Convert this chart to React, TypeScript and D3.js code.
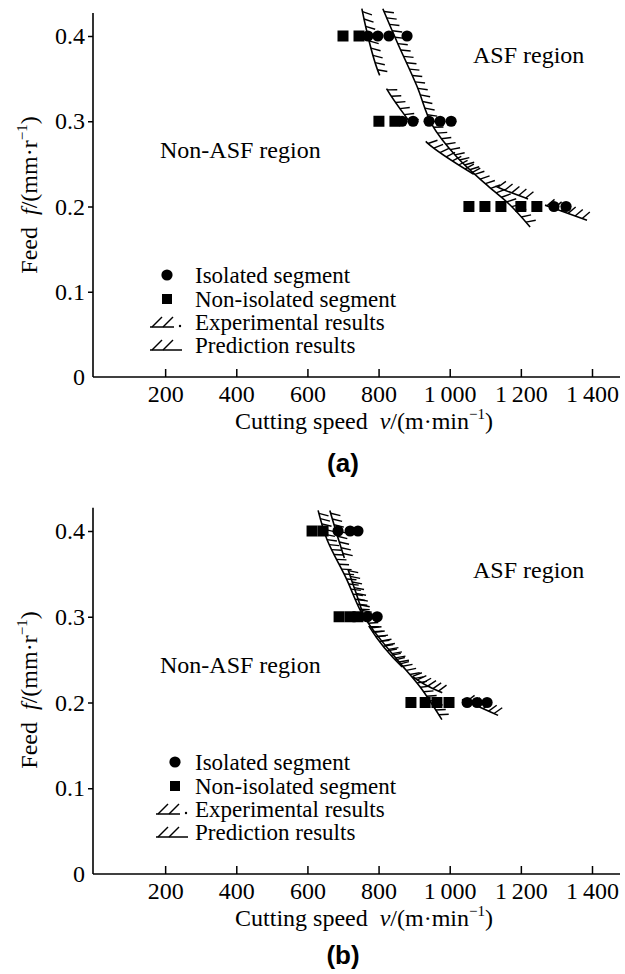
import React, { useEffect, useRef } from 'react';
import * as d3 from 'd3';

// shared axis values
const xTicks = [200, 400, 600, 800, 1000, 1200, 1400];
const yTicks = [0, 0.1, 0.2, 0.3, 0.4];
const feeds = [0.4, 0.3, 0.2];

// panel (a): speeds per feed row
const aIsolated = [[770, 798, 829, 880], [866, 897, 942, 973, 1004], [1293, 1327]];
const aNonIsolated = [[700, 745], [801, 846], [1054, 1099, 1144, 1200, 1245]];
const aExpV = [753, 804, 888, 936, 1071, 1133, 1226, 1386];
const aExpF = [0.432, 0.353, 0.299, 0.275, 0.237, 0.223, 0.208, 0.184];
const aPredV = [812, 852, 908, 950, 1020, 1105, 1169, 1226];
const aPredF = [0.432, 0.393, 0.341, 0.296, 0.258, 0.225, 0.202, 0.176];

// panel (b)
const bIsolated = [[686, 720, 742], [768, 796], [1049, 1077, 1105]];
const bNonIsolated = [[613, 644], [689, 720, 742], [891, 931, 964, 998]];
const bExpV = [663, 692, 734, 776, 897, 981, 1037, 1136];
const bExpF = [0.424, 0.384, 0.331, 0.287, 0.230, 0.211, 0.203, 0.185];
const bPredV = [630, 655, 711, 748, 784, 852, 917, 978];
const bPredF = [0.424, 0.390, 0.343, 0.308, 0.285, 0.250, 0.218, 0.180];

const legendLabels = ['Isolated segment', 'Non-isolated segment', 'Experimental results', 'Prediction results'];

const SERIF = '"Liberation Serif", "Times New Roman", serif';

const panels = [
  {
    base: 377, h40: 341, tag: '(a)', tagY: 472,
    iso: aIsolated, non: aNonIsolated,
    exp: [aExpV, aExpF], pred: [aPredV, aPredF],
    expDash: [69, 15, 40, 26, 58, 25, 35, 18, 60, 10],
    hatchGap: 7,
    legendX: 167, symX: 150, legendY: [275, 299, 322, 345],
    asf: [473, 63], nonAsf: [160, 158], yTitle: 195,
  },
  {
    base: 874, h40: 343, tag: '(b)', tagY: 964,
    iso: bIsolated, non: bNonIsolated,
    exp: [bExpV, bExpF], pred: [bPredV, bPredF],
    expDash: [50, 12, 48, 12, 53, 14, 34, 21, 40, 10],
    hatchGap: 5.5,
    legendX: 175, symX: 156, legendY: [762, 786, 809, 832],
    asf: [473, 578], nonAsf: [160, 673], yTitle: 690,
  },
];

function fmt(v: number) {
  if (v < 1000) return String(v);
  return Math.floor(v / 1000) + '\u2009' + String(v % 1000).padStart(3, '0');
}

function inDash(s: number, dash: number[]) {
  const period = d3.sum(dash);
  let pos = s % period;
  for (let i = 0; i < dash.length; i++) {
    if (pos < dash[i]) return i % 2 === 0;
    pos -= dash[i];
  }
  return false;
}

// short strokes on the ASF side of a curve
function hatch(g: any, node: SVGPathElement, gap: number, len: number, dash?: number[]) {
  const total = node.getTotalLength();
  const a = -Math.PI / 3;
  for (let s = 3; s < total - 1; s += gap) {
    if (dash && !inDash(s, dash)) continue;
    const p = node.getPointAtLength(s);
    const p1 = node.getPointAtLength(Math.min(total, s + 1));
    const p0 = node.getPointAtLength(Math.max(0, s - 1));
    let tx = p1.x - p0.x, ty = p1.y - p0.y;
    const n = Math.hypot(tx, ty) || 1;
    tx /= n; ty /= n;
    const hx = tx * Math.cos(a) - ty * Math.sin(a);
    const hy = tx * Math.sin(a) + ty * Math.cos(a);
    g.append('line')
      .attr('x1', p.x).attr('y1', p.y)
      .attr('x2', p.x + hx * len).attr('y2', p.y + hy * len)
      .attr('stroke', '#000').attr('stroke-width', 1.4);
  }
}

function drawPanel(svg: any, p: any) {
  const x = d3.scaleLinear().domain([0, 1400]).range([94, 592]);
  const y = d3.scaleLinear().domain([0, 0.4]).range([p.base, p.base - p.h40]);
  const g = svg.append('g').attr('font-family', SERIF).attr('fill', '#000');

  // axes
  g.append('line').attr('x1', 93).attr('x2', 620).attr('y1', p.base).attr('y2', p.base)
    .attr('stroke', '#000').attr('stroke-width', 1.6);
  g.append('line').attr('x1', 93).attr('x2', 93).attr('y1', p.base).attr('y2', y(0.427))
    .attr('stroke', '#000').attr('stroke-width', 1.6);

  const xa = g.append('g').attr('transform', `translate(0,${p.base})`)
    .call(d3.axisBottom(x).tickValues(xTicks).tickFormat(fmt as any).tickSizeInner(-8).tickSizeOuter(0).tickPadding(8));
  xa.select('.domain').remove();
  xa.selectAll('line').attr('stroke-width', 1.5);
  xa.selectAll('text').attr('font-family', SERIF).attr('font-size', 24).attr('fill', '#000');

  const ya = g.append('g').attr('transform', 'translate(93,0)')
    .call(d3.axisLeft(y).tickValues(yTicks).tickFormat(d3.format('.1~f') as any).tickSizeInner(5).tickSizeOuter(0).tickPadding(3));
  ya.select('.domain').remove();
  ya.selectAll('line').attr('stroke-width', 1.5);
  ya.selectAll('.tick').filter((d: number) => d === 0).select('line').remove();
  ya.selectAll('text').attr('font-family', SERIF).attr('font-size', 24).attr('fill', '#000');

  // axis titles
  const xt = g.append('text').attr('x', 364).attr('y', p.base + 52).attr('text-anchor', 'middle').attr('font-size', 24);
  xt.append('tspan').text('Cutting speed ');
  xt.append('tspan').attr('dx', 6).attr('font-style', 'italic').text('v');
  xt.append('tspan').text('/(m\u00b7min');
  xt.append('tspan').attr('dy', -10).attr('font-size', 15).text('\u22121');
  xt.append('tspan').attr('dy', 10).text(')');

  const yt = g.append('text').attr('transform', `translate(37,${p.yTitle}) rotate(-90)`)
    .attr('text-anchor', 'middle').attr('font-size', 24);
  yt.append('tspan').text('Feed ');
  yt.append('tspan').attr('dx', 6).attr('font-style', 'italic').text('f');
  yt.append('tspan').text('/(mm\u00b7r');
  yt.append('tspan').attr('dy', -10).attr('font-size', 15).text('\u22121');
  yt.append('tspan').attr('dy', 10).text(')');

  g.append('text').attr('x', 343).attr('y', p.tagY).attr('text-anchor', 'middle')
    .attr('font-family', '"Liberation Sans", Arial, sans-serif').attr('font-weight', 'bold')
    .attr('font-size', 26).text(p.tag);

  // region labels
  g.append('text').attr('x', p.asf[0]).attr('y', p.asf[1]).attr('font-size', 24).text('ASF region');
  g.append('text').attr('x', p.nonAsf[0]).attr('y', p.nonAsf[1]).attr('font-size', 24).text('Non-ASF region');

  // curves
  const mk = (vs: number[], fs: number[]) =>
    d3.line<number>().x(v => x(v)).y((_, i) => y(fs[i])).curve(d3.curveCatmullRom.alpha(0.5))(vs);

  const pred = g.append('path').attr('d', mk(p.pred[0], p.pred[1]))
    .attr('fill', 'none').attr('stroke', '#000').attr('stroke-width', 1.6);
  hatch(g, pred.node(), p.hatchGap, 10);

  const exp = g.append('path').attr('d', mk(p.exp[0], p.exp[1]))
    .attr('fill', 'none').attr('stroke', '#000').attr('stroke-width', 1.6)
    .attr('stroke-dasharray', p.expDash.join(' '));
  hatch(g, exp.node(), p.hatchGap + 0.5, 10, p.expDash);

  // points
  const sq = 11;
  p.non.forEach((row: number[], i: number) => {
    g.selectAll(null).data(row).enter().append('rect')
      .attr('x', (v: number) => x(v) - sq / 2).attr('y', y(feeds[i]) - sq / 2)
      .attr('width', sq).attr('height', sq).attr('fill', '#000');
  });
  p.iso.forEach((row: number[], i: number) => {
    g.selectAll(null).data(row).enter().append('circle')
      .attr('cx', (v: number) => x(v)).attr('cy', y(feeds[i])).attr('r', 5.6).attr('fill', '#000');
  });

  // legend
  const ly = p.legendY;
  g.append('circle').attr('cx', p.legendX).attr('cy', ly[0]).attr('r', 5.6);
  g.append('rect').attr('x', p.legendX - 5).attr('y', ly[1] - 5).attr('width', 10).attr('height', 10);
  [2, 3].forEach(k => {
    const sx = p.symX, by = ly[k] + 5;
    const w = k === 2 ? 24 : 32;
    g.append('line').attr('x1', sx).attr('x2', sx + w).attr('y1', by).attr('y2', by)
      .attr('stroke', '#000').attr('stroke-width', 1.5);
    [2, 13].forEach(o => {
      g.append('line').attr('x1', sx + o).attr('y1', by).attr('x2', sx + o + 10).attr('y2', by - 10)
        .attr('stroke', '#000').attr('stroke-width', 1.5);
    });
    if (k === 2) g.append('circle').attr('cx', sx + 30).attr('cy', by - 1).attr('r', 1.2);
  });
  legendLabels.forEach((t, k) => {
    g.append('text').attr('x', 195).attr('y', ly[k] + 8).attr('font-size', 23).text(t);
  });
}

export default function App() {
  const ref = useRef<SVGSVGElement>(null);

  useEffect(() => {
    const svg = d3.select(ref.current);
    svg.selectAll('*').remove();
    svg.append('rect').attr('width', 625).attr('height', 974).attr('fill', '#fff');
    panels.forEach(p => drawPanel(svg, p));
  }, []);

  return (
    <svg ref={ref} width={625} height={974}
      style={{ position: 'absolute', left: 0, top: 0, background: '#fff' }} />
  );
}
